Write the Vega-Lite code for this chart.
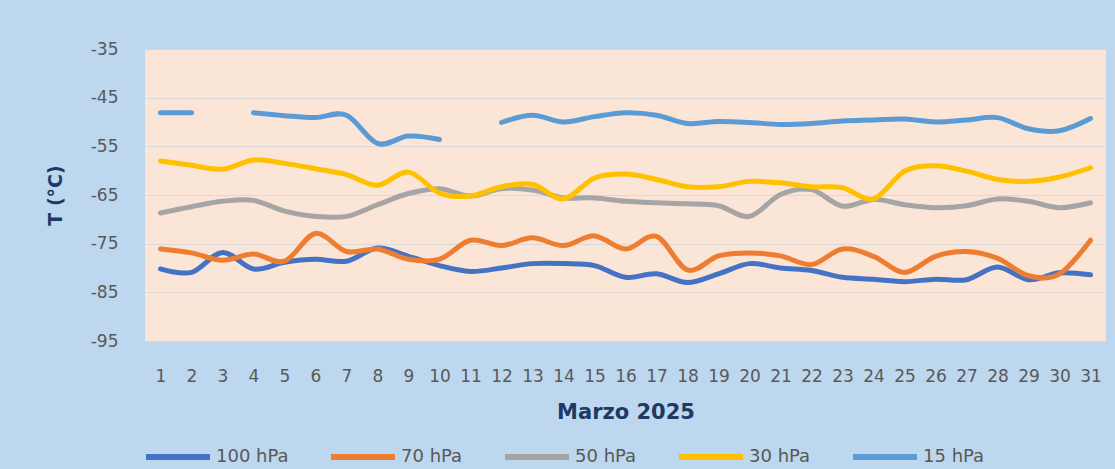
{
  "$schema": "https://vega.github.io/schema/vega-lite/v6.json",
  "width": 961,
  "height": 292,
  "autosize": {"type": "none"},
  "padding": {"left": 145, "top": 49, "right": 9, "bottom": 128},
  "background": "#BDD7EE",
  "config": {
    "view": {"fill": "#FBE5D6", "stroke": null},
    "font": "DejaVu Sans"
  },
  "data": {
    "values": [
      {"day":1,"series":"100 hPa","T":-80.2},{"day":2,"series":"100 hPa","T":-80.9},{"day":3,"series":"100 hPa","T":-76.8},{"day":4,"series":"100 hPa","T":-80.2},{"day":5,"series":"100 hPa","T":-78.8},{"day":6,"series":"100 hPa","T":-78.2},{"day":7,"series":"100 hPa","T":-78.6},{"day":8,"series":"100 hPa","T":-75.9},{"day":9,"series":"100 hPa","T":-77.6},{"day":10,"series":"100 hPa","T":-79.5},{"day":11,"series":"100 hPa","T":-80.7},{"day":12,"series":"100 hPa","T":-80.0},{"day":13,"series":"100 hPa","T":-79.1},{"day":14,"series":"100 hPa","T":-79.1},{"day":15,"series":"100 hPa","T":-79.5},{"day":16,"series":"100 hPa","T":-81.9},{"day":17,"series":"100 hPa","T":-81.2},{"day":18,"series":"100 hPa","T":-83.0},{"day":19,"series":"100 hPa","T":-81.2},{"day":20,"series":"100 hPa","T":-79.1},{"day":21,"series":"100 hPa","T":-80.0},{"day":22,"series":"100 hPa","T":-80.5},{"day":23,"series":"100 hPa","T":-81.9},{"day":24,"series":"100 hPa","T":-82.3},{"day":25,"series":"100 hPa","T":-82.8},{"day":26,"series":"100 hPa","T":-82.3},{"day":27,"series":"100 hPa","T":-82.4},{"day":28,"series":"100 hPa","T":-79.8},{"day":29,"series":"100 hPa","T":-82.4},{"day":30,"series":"100 hPa","T":-81.0},{"day":31,"series":"100 hPa","T":-81.4},
      {"day":1,"series":"70 hPa","T":-76.1},{"day":2,"series":"70 hPa","T":-76.9},{"day":3,"series":"70 hPa","T":-78.4},{"day":4,"series":"70 hPa","T":-77.1},{"day":5,"series":"70 hPa","T":-78.6},{"day":6,"series":"70 hPa","T":-72.9},{"day":7,"series":"70 hPa","T":-76.6},{"day":8,"series":"70 hPa","T":-76.1},{"day":9,"series":"70 hPa","T":-78.2},{"day":10,"series":"70 hPa","T":-78.2},{"day":11,"series":"70 hPa","T":-74.3},{"day":12,"series":"70 hPa","T":-75.4},{"day":13,"series":"70 hPa","T":-73.8},{"day":14,"series":"70 hPa","T":-75.4},{"day":15,"series":"70 hPa","T":-73.4},{"day":16,"series":"70 hPa","T":-76.1},{"day":17,"series":"70 hPa","T":-73.5},{"day":18,"series":"70 hPa","T":-80.4},{"day":19,"series":"70 hPa","T":-77.5},{"day":20,"series":"70 hPa","T":-76.9},{"day":21,"series":"70 hPa","T":-77.5},{"day":22,"series":"70 hPa","T":-79.3},{"day":23,"series":"70 hPa","T":-76.1},{"day":24,"series":"70 hPa","T":-77.6},{"day":25,"series":"70 hPa","T":-80.9},{"day":26,"series":"70 hPa","T":-77.6},{"day":27,"series":"70 hPa","T":-76.6},{"day":28,"series":"70 hPa","T":-78.0},{"day":29,"series":"70 hPa","T":-81.6},{"day":30,"series":"70 hPa","T":-81.2},{"day":31,"series":"70 hPa","T":-74.3},
      {"day":1,"series":"50 hPa","T":-68.7},{"day":2,"series":"50 hPa","T":-67.4},{"day":3,"series":"50 hPa","T":-66.3},{"day":4,"series":"50 hPa","T":-66.1},{"day":5,"series":"50 hPa","T":-68.3},{"day":6,"series":"50 hPa","T":-69.4},{"day":7,"series":"50 hPa","T":-69.4},{"day":8,"series":"50 hPa","T":-67.0},{"day":9,"series":"50 hPa","T":-64.7},{"day":10,"series":"50 hPa","T":-63.7},{"day":11,"series":"50 hPa","T":-65.2},{"day":12,"series":"50 hPa","T":-63.7},{"day":13,"series":"50 hPa","T":-64.0},{"day":14,"series":"50 hPa","T":-65.6},{"day":15,"series":"50 hPa","T":-65.6},{"day":16,"series":"50 hPa","T":-66.3},{"day":17,"series":"50 hPa","T":-66.6},{"day":18,"series":"50 hPa","T":-66.8},{"day":19,"series":"50 hPa","T":-67.2},{"day":20,"series":"50 hPa","T":-69.4},{"day":21,"series":"50 hPa","T":-64.9},{"day":22,"series":"50 hPa","T":-63.9},{"day":23,"series":"50 hPa","T":-67.3},{"day":24,"series":"50 hPa","T":-65.9},{"day":25,"series":"50 hPa","T":-67.0},{"day":26,"series":"50 hPa","T":-67.6},{"day":27,"series":"50 hPa","T":-67.2},{"day":28,"series":"50 hPa","T":-65.8},{"day":29,"series":"50 hPa","T":-66.3},{"day":30,"series":"50 hPa","T":-67.6},{"day":31,"series":"50 hPa","T":-66.6},
      {"day":1,"series":"30 hPa","T":-58.0},{"day":2,"series":"30 hPa","T":-58.9},{"day":3,"series":"30 hPa","T":-59.7},{"day":4,"series":"30 hPa","T":-57.8},{"day":5,"series":"30 hPa","T":-58.5},{"day":6,"series":"30 hPa","T":-59.6},{"day":7,"series":"30 hPa","T":-60.8},{"day":8,"series":"30 hPa","T":-63.0},{"day":9,"series":"30 hPa","T":-60.3},{"day":10,"series":"30 hPa","T":-64.6},{"day":11,"series":"30 hPa","T":-65.2},{"day":12,"series":"30 hPa","T":-63.3},{"day":13,"series":"30 hPa","T":-62.8},{"day":14,"series":"30 hPa","T":-65.8},{"day":15,"series":"30 hPa","T":-61.5},{"day":16,"series":"30 hPa","T":-60.7},{"day":17,"series":"30 hPa","T":-61.8},{"day":18,"series":"30 hPa","T":-63.3},{"day":19,"series":"30 hPa","T":-63.3},{"day":20,"series":"30 hPa","T":-62.2},{"day":21,"series":"30 hPa","T":-62.5},{"day":22,"series":"30 hPa","T":-63.3},{"day":23,"series":"30 hPa","T":-63.5},{"day":24,"series":"30 hPa","T":-65.8},{"day":25,"series":"30 hPa","T":-60.1},{"day":26,"series":"30 hPa","T":-59.0},{"day":27,"series":"30 hPa","T":-60.1},{"day":28,"series":"30 hPa","T":-61.8},{"day":29,"series":"30 hPa","T":-62.2},{"day":30,"series":"30 hPa","T":-61.3},{"day":31,"series":"30 hPa","T":-59.4},
      {"day":1,"series":"15 hPa","T":-48.1},{"day":2,"series":"15 hPa","T":-48.1},{"day":3,"series":"15 hPa","T":null},{"day":4,"series":"15 hPa","T":-48.1},{"day":5,"series":"15 hPa","T":-48.7},{"day":6,"series":"15 hPa","T":-49.1},{"day":7,"series":"15 hPa","T":-48.6},{"day":8,"series":"15 hPa","T":-54.4},{"day":9,"series":"15 hPa","T":-52.9},{"day":10,"series":"15 hPa","T":-53.6},{"day":11,"series":"15 hPa","T":null},{"day":12,"series":"15 hPa","T":-50.1},{"day":13,"series":"15 hPa","T":-48.6},{"day":14,"series":"15 hPa","T":-50.0},{"day":15,"series":"15 hPa","T":-48.9},{"day":16,"series":"15 hPa","T":-48.1},{"day":17,"series":"15 hPa","T":-48.6},{"day":18,"series":"15 hPa","T":-50.3},{"day":19,"series":"15 hPa","T":-49.9},{"day":20,"series":"15 hPa","T":-50.1},{"day":21,"series":"15 hPa","T":-50.5},{"day":22,"series":"15 hPa","T":-50.3},{"day":23,"series":"15 hPa","T":-49.8},{"day":24,"series":"15 hPa","T":-49.6},{"day":25,"series":"15 hPa","T":-49.4},{"day":26,"series":"15 hPa","T":-50.0},{"day":27,"series":"15 hPa","T":-49.6},{"day":28,"series":"15 hPa","T":-49.1},{"day":29,"series":"15 hPa","T":-51.4},{"day":30,"series":"15 hPa","T":-51.8},{"day":31,"series":"15 hPa","T":-49.3}
    ]
  },
  "mark": {"type": "line", "interpolate": "cardinal", "strokeWidth": 5, "strokeCap": "round", "strokeJoin": "round"},
  "encoding": {
    "x": {
      "field": "day",
      "type": "ordinal",
      "sort": "ascending",
      "scale": {"type": "point", "padding": 0.5},
      "axis": {
        "title": "Marzo 2025",
        "titleFont": "DejaVu Sans",
        "titleFontSize": 21,
        "titleFontWeight": "bold",
        "titleColor": "#203864",
        "titleBaseline": "alphabetic",
        "titleY": 77,
        "labelAngle": 0,
        "labelFontSize": 17,
        "labelColor": "#595959",
        "labelBaseline": "alphabetic",
        "labelPadding": 40,
        "ticks": false,
        "tickSize": 0,
        "domain": false,
        "grid": false
      }
    },
    "y": {
      "field": "T",
      "type": "quantitative",
      "scale": {"domain": [-95, -35], "nice": false, "zero": false},
      "axis": {
        "title": "T (°C)",
        "titleFont": "DejaVu Sans",
        "titleFontSize": 19,
        "titleFontWeight": "bold",
        "titleColor": "#203864",
        "titleX": -90,
        "titleY": 146,
        "titleBaseline": "middle",
        "titleAlign": "center",
        "titleAngle": -90,
        "values": [-95, -85, -75, -65, -55, -45, -35],
        "labelExpr": "replace(datum.label, '\u2212', '-')",
        "labelFontSize": 17,
        "labelColor": "#595959",
        "labelPadding": 27,
        "ticks": false,
        "tickSize": 0,
        "domain": false,
        "grid": true,
        "gridColor": "#D9D9D9",
        "gridWidth": 1
      }
    },
    "color": {
      "field": "series",
      "type": "nominal",
      "sort": ["100 hPa", "70 hPa", "50 hPa", "30 hPa", "15 hPa"],
      "scale": {
        "domain": ["100 hPa", "70 hPa", "50 hPa", "30 hPa", "15 hPa"],
        "range": ["#4472C4", "#ED7D31", "#A5A5A5", "#FFC000", "#5B9BD5"]
      },
      "legend": {
        "title": null,
        "orient": "none",
        "direction": "horizontal",
        "legendX": -2,
        "legendY": 373,
        "symbolType": "stroke",
        "symbolSize": 4096,
        "symbolStrokeWidth": 6,
        "labelFontSize": 18,
        "labelColor": "#595959",
        "labelOffset": 3,
        "columnPadding": 30
      }
    }
  }
}
